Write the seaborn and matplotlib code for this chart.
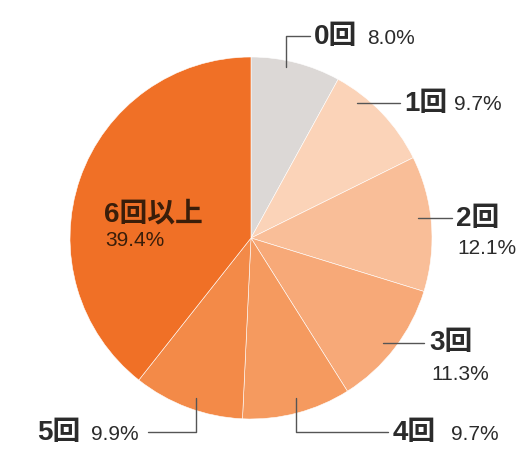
import matplotlib.pyplot as plt
import seaborn as sns

labels = ["0回", "1回", "2回", "3回", "4回", "5回", "6回以上"]
values = [8.0, 9.7, 12.1, 11.3, 9.7, 9.9, 39.4]
colors = ["#dcd8d6", "#fbd3b8", "#f9be98", "#f7a978", "#f59a5f", "#f38a48", "#f07026"]

sns.set_style("white")
plt.rcParams["font.family"] = ["Liberation Sans", "Noto Sans CJK JP", "DejaVu Sans"]

W, H = 525, 459
fig = plt.figure(figsize=(W / 100, H / 100), dpi=100)
ax = fig.add_axes([0, 0, 1, 1])

cx, cy, r = 251, H - 238, 181
ax.pie(values, colors=colors, startangle=90, counterclock=False,
       center=(cx, cy), radius=r, frame=True,
       wedgeprops=dict(edgecolor="white", linewidth=0.4))
ax.set_xlim(0, W)
ax.set_ylim(0, H)
ax.set_aspect("equal")
ax.axis("off")

txt = "#2b2b2b"
line = "#555555"

def y(v):
    return H - v

# leader lines (image px coords)
leaders = [
    [(286, 67), (286, 36), (310, 36)],
    [(357, 103), (400, 103)],
    [(418, 218), (452, 218)],
    [(383, 343), (424, 343)],
    [(296, 398), (296, 432), (388, 432)],
    [(196, 398), (196, 432), (148, 432)],
]
for pts in leaders:
    ax.plot([p[0] for p in pts], [y(p[1]) for p in pts], color=line, lw=1.0)

# (label x, label y, pct x, pct y)
spots = [
    (314, 37, 367, 38),
    (404, 104, 454, 105),
    (456, 219, 457, 249),
    (429, 343, 431, 374),
    (393, 433, 451, 434),
    (37, 433, 91, 434),
    (104, 214, 105, 241),
]
for i, (lx, ly, px, py) in enumerate(spots):
    c = "#3a1e0a" if i == 6 else txt
    ax.text(lx, y(ly), labels[i], fontsize=20, fontweight="bold", color=c,
            ha="left", va="center")
    ax.text(px, y(py), f"{values[i]:.1f}%", fontsize=15, color=c,
            ha="left", va="center")

fig.savefig("out.png", dpi=100)
